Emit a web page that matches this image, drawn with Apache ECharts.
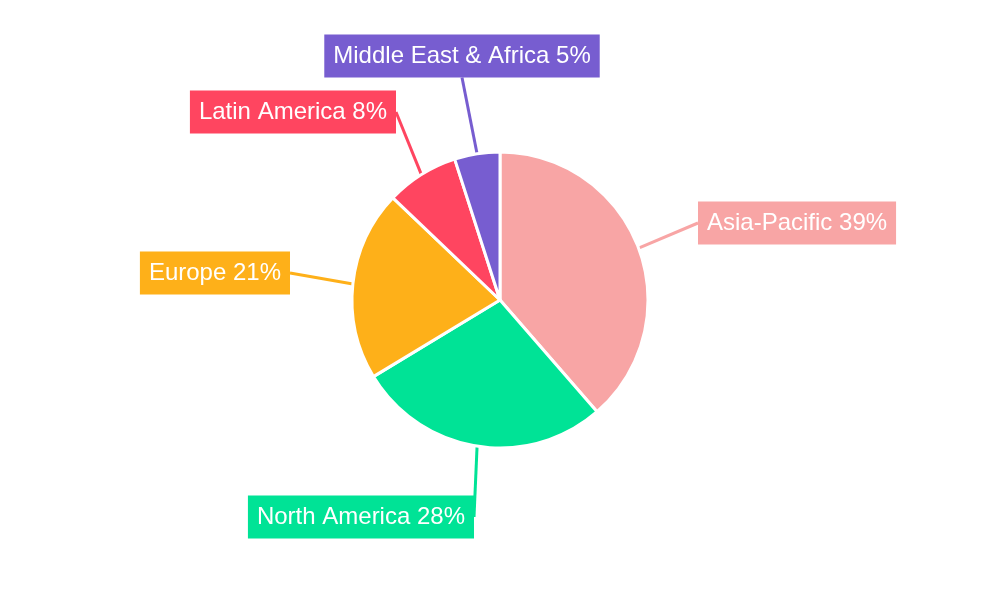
<!DOCTYPE html>
<html><head><meta charset="utf-8">
<script src="https://cdn.jsdelivr.net/npm/echarts@6/dist/echarts.min.js"></script>
<style>html,body{margin:0;background:#fff}#c{width:1000px;height:600px}</style>
</head><body><div id="c"></div>
<script>
const categories = ["Asia-Pacific","North America","Europe","Latin America","Middle East & Africa"];
const values = [39,28,21,8,5];
const colors = ["#F8A5A5","#00E396","#FEB019","#FF4560","#775DD0"];
const labelPos = [[698,223,'left'],[474,517,'right'],[290,273,'right'],[396,112,'right'],[462,56,'center']];
const chart = echarts.init(document.getElementById('c'));
chart.setOption({
  animation:false,
  series:[{
    type:'pie',
    center:[500,300],
    radius:[0,148],
    startAngle:90,
    clockwise:true,
    data:categories.map((n,i)=>({name:n,value:values[i],itemStyle:{color:colors[i]},
      label:{backgroundColor:colors[i]},labelLine:{lineStyle:{color:colors[i]}}})),
    itemStyle:{borderColor:'#fff',borderWidth:3},
    label:{formatter:'{b} {c}%',color:'#fff',fontSize:24,fontFamily:'Liberation Sans, Arial, sans-serif',padding:[10,9,9,9]},
    labelLine:{length:50,length2:0,lineStyle:{width:3}},
    labelLayout:function(p){const q=labelPos[p.dataIndex];return {x:q[0],y:q[1],align:q[2],verticalAlign:'middle'};}
  }]
});
</script></body></html>
